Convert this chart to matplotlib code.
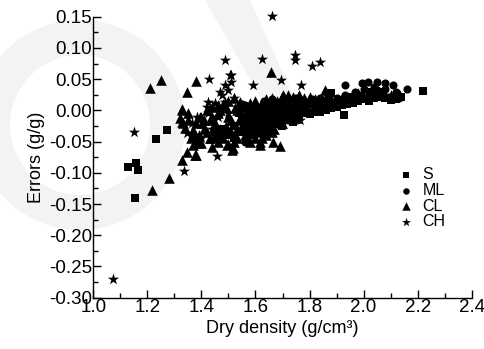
import matplotlib
matplotlib.use("Agg")
import matplotlib.pyplot as plt
from matplotlib.patches import Wedge, Polygon
from matplotlib.ticker import MultipleLocator, FormatStrFormatter

plt.rcParams['font.family'] = ['Liberation Sans', 'DejaVu Sans']

# ---- data ----
s_x = [1.127, 1.157, 1.164, 1.153, 1.231, 1.274, 1.926, 2.221,
       1.50, 1.52, 1.55, 1.57, 1.58, 1.60, 1.62, 1.64, 1.66, 1.68, 1.70, 1.72,
       1.74, 1.76, 1.78, 1.80, 1.82, 1.84, 1.86, 1.88, 1.90, 1.92, 1.94, 1.96,
       1.98, 2.00, 2.02, 2.04, 2.06, 2.08, 2.10, 2.12, 2.14, 1.88, 1.60, 1.65,
       1.70, 1.75, 1.80, 1.85, 1.55, 1.62, 1.68, 1.73, 1.78, 1.83, 1.95, 2.03,
       2.07, 1.52, 1.58, 1.48, 1.45, 1.54, 1.59, 1.63, 1.67, 1.71, 1.57, 1.61,
       1.56, 1.60, 1.64, 1.66, 1.70, 1.74, 1.69, 1.77]
s_y = [-0.091, -0.084, -0.096, -0.141, -0.046, -0.032, -0.0075, 0.0315,
       -0.040, -0.045, -0.035, -0.030, -0.040, -0.035, -0.030, -0.025, -0.020, -0.022, -0.015, -0.012,
       -0.010, -0.008, -0.005, -0.006, -0.003, -0.002, 0.000, 0.003, 0.005, 0.008, 0.010, 0.012,
       0.015, 0.018, 0.015, 0.020, 0.022, 0.020, 0.016, 0.018, 0.022, 0.028, -0.010, 0.000,
       0.005, 0.008, 0.010, 0.012, -0.015, -0.005, 0.002, 0.000, 0.004, 0.006, 0.022, 0.030,
       0.030, -0.025, -0.020, -0.030, -0.035, -0.005, -0.028, -0.020, -0.008, -0.002, -0.010, 0.000,
       -0.025, -0.020, -0.012, -0.030, -0.025, -0.018, 0.008, 0.015]

ml_x = [1.561, 1.931, 1.994, 2.016, 2.050, 2.079, 2.109, 2.160, 2.123, 2.090,
        1.60, 1.63, 1.66, 1.69, 1.72, 1.75, 1.78, 1.81, 1.84, 1.87, 1.90, 1.93,
        1.96, 1.99, 2.02, 2.05, 2.08, 2.12, 2.13, 1.97, 2.00, 2.04, 1.58, 1.62,
        1.67, 1.71, 1.76, 1.82, 1.88, 1.94, 2.01, 1.56, 1.64, 1.70, 1.55,
        1.59, 1.65, 1.74, 1.79, 1.85, 1.91, 1.60, 1.64, 1.68, 1.72]
ml_y = [-0.050, 0.041, 0.044, 0.045, 0.045, 0.044, 0.041, 0.035, 0.028, 0.022,
        0.005, 0.015, 0.018, 0.010, 0.016, 0.020, 0.015, 0.018, 0.020, 0.022, 0.020, 0.025,
        0.020, 0.025, 0.028, 0.032, 0.035, 0.030, 0.020, 0.030, 0.035, 0.038, 0.000, -0.015,
        -0.010, -0.005, 0.000, 0.005, 0.012, 0.015, 0.020, 0.008, 0.008, 0.012, 0.010,
        -0.020, -0.018, 0.005, 0.010, 0.015, 0.010, -0.030, -0.025, -0.020, -0.015]

cl_x = [1.210, 1.250, 1.379, 1.345, 1.330, 1.327, 1.345, 1.327, 1.379, 1.281,
        1.219, 1.656, 1.666, 1.690, 1.515, 1.500, 1.616, 1.400, 1.856, 1.700,
        1.329, 1.320, 1.333, 1.350, 1.340, 1.370, 1.403, 1.395, 1.420, 1.432,
        1.460, 1.440, 1.495, 1.517, 1.388, 1.377, 1.543, 1.568, 1.524, 1.460,
        1.561, 1.635, 1.624, 1.617, 1.698, 1.702, 1.739, 1.783, 1.665, 1.635,
        1.42, 1.44, 1.46, 1.48, 1.50, 1.52, 1.54, 1.56, 1.58, 1.60, 1.62, 1.64,
        1.66, 1.68, 1.70, 1.72, 1.74, 1.76, 1.78, 1.80, 1.82, 1.84, 1.86, 1.88,
        1.92, 1.98, 1.45, 1.47, 1.49, 1.51, 1.53, 1.55, 1.57, 1.59, 1.61, 1.63,
        1.65, 1.67, 1.69, 1.71, 1.73, 1.75, 1.77, 1.79, 1.81, 1.83, 1.85, 1.87,
        1.41, 1.43, 1.39, 1.37, 1.36, 1.38, 1.40, 1.35, 1.48, 1.52, 1.56, 1.60,
        1.64, 1.58, 1.46, 1.63, 1.66, 1.53, 1.49, 1.44, 1.90, 1.95, 2.05, 2.10,
        1.47, 1.51, 1.55, 1.59, 1.62, 1.68, 1.72, 1.76, 1.43, 1.50, 1.57, 1.65,
        1.45, 1.53, 1.57, 1.61, 1.62, 1.66, 1.58, 1.54, 1.47, 1.41]
cl_y = [0.036, 0.049, 0.047, 0.030, 0.002, -0.018, -0.066, -0.079, -0.072, -0.109,
        -0.128, 0.061, -0.051, -0.057, -0.064, -0.054, -0.051, -0.052, 0.033, -0.021,
        0.001, -0.012, -0.020, -0.015, -0.028, -0.031, -0.020, -0.010, -0.034, -0.044,
        -0.042, -0.058, -0.055, -0.060, -0.052, -0.071, 0.014, 0.001, 0.004, 0.009,
        -0.015, -0.031, -0.044, -0.055, -0.020, 0.025, 0.022, 0.014, 0.014, 0.012,
        0.000, 0.005, -0.005, 0.010, 0.015, 0.020, 0.010, 0.005, 0.012, 0.015, 0.010, 0.018,
        0.020, 0.015, 0.022, 0.025, 0.020, 0.025, 0.020, 0.022, 0.018, 0.015, 0.020, 0.018,
        0.020, 0.028, -0.020, -0.030, -0.025, -0.015, -0.030, -0.025, -0.018, -0.025, -0.020, -0.015,
        -0.012, -0.030, -0.008, -0.010, -0.005, -0.012, 0.000, 0.005, 0.000, 0.010, 0.005, 0.008,
        -0.030, -0.045, -0.040, -0.055, -0.045, -0.020, -0.010, -0.005, -0.045, -0.050, -0.040, -0.045,
        -0.040, -0.050, -0.050, -0.030, -0.035, 0.000, 0.005, -0.010, 0.012, 0.018, 0.028, 0.025,
        -0.040, -0.035, -0.010, 0.000, -0.025, 0.000, 0.010, 0.012, -0.015, -0.010, -0.035, 0.005,
        -0.040, -0.045, -0.045, -0.035, -0.008, 0.005, -0.008, -0.015, 0.000, -0.015]

ch_x = [1.072, 1.150, 1.334, 1.456, 1.486, 1.625, 1.748, 1.746, 1.810, 1.838,
        1.660, 1.429, 1.508, 1.592, 1.694, 1.768, 1.765, 1.425,
        1.506, 1.488, 1.499, 1.477, 1.488, 1.450, 1.420, 1.425, 1.384, 1.365,
        1.347, 1.377, 1.47, 1.51, 1.52, 1.46, 1.44, 1.40, 1.38, 1.36, 1.55,
        1.50, 1.53]
ch_y = [-0.270, -0.035, -0.097, -0.073, 0.080, 0.083, 0.088, 0.080, 0.071, 0.077,
        0.151, 0.050, 0.056, 0.040, 0.048, 0.040, -0.015, 0.014,
        0.057, 0.041, 0.033, 0.025, 0.014, 0.012, 0.006, -0.004, -0.010, -0.020,
        -0.036, -0.042, 0.030, 0.045, 0.020, -0.010, -0.030, -0.045, -0.050, -0.040, -0.020,
        -0.005, 0.005]

labels = ['S', 'ML', 'CL', 'CH']

W, H = 484, 349
fig = plt.figure(figsize=(W / 100, H / 100), dpi=100)
fig.patch.set_facecolor('white')

# faint background watermark (pixel coordinates, origin bottom-left)
wm = '#f3f3f3'
fig.patches.append(Wedge((80, H - 125), 105, 0, 360, width=35,
                         facecolor=wm, edgecolor='none', transform=None, zorder=-10))
fig.patches.append(Polygon([(205, H), (250, H), (295, H - 100), (262, H - 100)],
                           closed=True, facecolor=wm, edgecolor='none',
                           transform=None, zorder=-10))

ax = fig.add_axes([93.3 / W, 1 - 297.7 / H, (471.7 - 93.3) / W, (297.7 - 16.7) / H])
ax.set_facecolor('none')
ax.set_zorder(1)

ax.scatter(s_x, s_y, marker='s', s=30, c='black', linewidths=0, label=labels[0], clip_on=False)
ax.scatter(ml_x, ml_y, marker='o', s=34, c='black', linewidths=0, label=labels[1], clip_on=False)
ax.scatter(cl_x, cl_y, marker='^', s=58, c='black', linewidths=0, label=labels[2], clip_on=False)
ax.scatter(ch_x, ch_y, marker='*', s=72, c='black', linewidths=0, label=labels[3], clip_on=False)

ax.set_xlim(1.0, 2.4)
ax.set_ylim(-0.30, 0.15)
ax.xaxis.set_major_locator(MultipleLocator(0.2))
ax.xaxis.set_minor_locator(MultipleLocator(0.1))
ax.yaxis.set_major_locator(MultipleLocator(0.05))
ax.yaxis.set_minor_locator(MultipleLocator(0.025))
ax.xaxis.set_major_formatter(FormatStrFormatter('%.1f'))
ax.yaxis.set_major_formatter(FormatStrFormatter('%.2f'))

for sp in ['top', 'right']:
    ax.spines[sp].set_visible(False)
for sp in ['left', 'bottom']:
    ax.spines[sp].set_linewidth(1.0)

ax.tick_params(which='major', direction='in', length=6, width=1.0, labelsize=13.5, pad=1)
ax.tick_params(which='minor', direction='in', length=3.5, width=1.0)

ax.set_xlabel('Dry density (g/cm³)', fontsize=13, labelpad=3)
ax.set_ylabel('Errors (g/g)', fontsize=13, labelpad=3)

leg = ax.legend(loc='upper left', bbox_to_anchor=(0.805, 0.465), frameon=False,
                fontsize=11.5, handlelength=1.0, handletextpad=0.55,
                labelspacing=0.05, borderpad=0, borderaxespad=0,
                markerscale=0.8, scatterpoints=1)

fig.savefig('out.png', dpi=100)
